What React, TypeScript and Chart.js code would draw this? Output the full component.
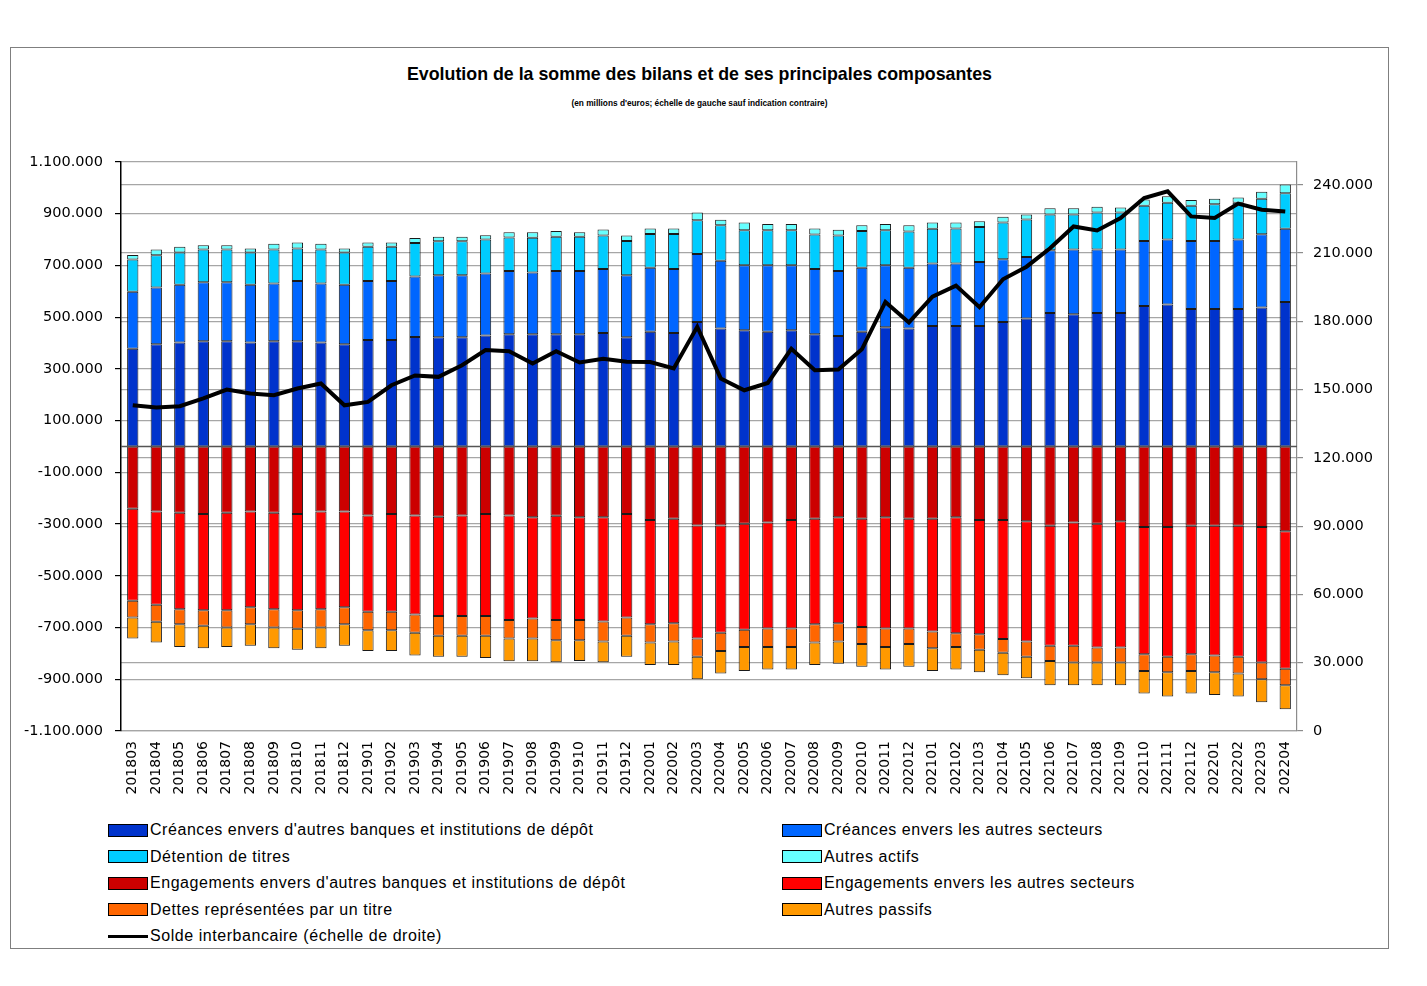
import React, { useEffect, useRef } from "react";
import { Chart, registerables } from "chart.js";

Chart.register(...registerables);

const months = [
  "201803","201804","201805","201806","201807","201808","201809","201810","201811","201812",
  "201901","201902","201903","201904","201905","201906","201907","201908","201909","201910",
  "201911","201912","202001","202002","202003","202004","202005","202006","202007","202008",
  "202009","202010","202011","202012","202101","202102","202103","202104","202105","202106",
  "202107","202108","202109","202110","202111","202112","202201","202202","202203","202204",
];

const creancesBanques = [378000,395000,402000,407000,407000,402000,407000,407000,402000,395000,412000,412000,423000,422000,422000,429000,434000,434000,434000,434000,439000,422000,444000,439000,481000,456000,449000,444000,449000,434000,427000,444000,461000,456000,466000,466000,466000,481000,495000,516000,511000,516000,516000,543000,549000,532000,532000,532000,537000,559000];
const creancesSecteurs = [220000,220000,223000,228000,228000,223000,223000,233000,228000,230000,228000,228000,234000,240000,240000,240000,245000,239000,245000,245000,247000,240000,247000,247000,263000,262000,252000,257000,252000,252000,252000,247000,240000,235000,242000,242000,247000,243000,238000,243000,251000,246000,246000,252000,251000,263000,263000,268000,284000,283000];
const detentionTitres = [125000,124000,125000,127000,127000,125000,132000,126000,132000,125000,132000,132000,130000,132000,132000,131000,129000,134000,132000,132000,130000,133000,131000,136000,131000,137000,135000,135000,135000,134000,137000,142000,135000,140000,134000,135000,136000,142000,145000,138000,135000,143000,143000,136000,142000,136000,142000,142000,137000,137000];
const autresActifs = [17000,23000,22000,16000,16000,16000,22000,23000,22000,16000,17000,17000,19000,17000,17000,17000,20000,21000,22000,17000,23000,21000,21000,21000,30000,22000,30000,24000,24000,23000,22000,22000,24000,24000,24000,23000,22000,22000,19000,24000,24000,22000,19000,24000,26000,22000,21000,21000,27000,34000];
const engagementsBanques = [-241000,-251000,-256000,-261000,-256000,-251000,-256000,-261000,-251000,-251000,-267000,-261000,-267000,-272000,-267000,-261000,-267000,-274000,-268000,-274000,-274000,-261000,-284000,-279000,-305000,-305000,-299000,-294000,-284000,-279000,-274000,-279000,-274000,-279000,-279000,-274000,-284000,-284000,-289000,-306000,-294000,-299000,-289000,-311000,-311000,-306000,-306000,-306000,-311000,-328000];
const engagementsSecteurs = [-355000,-361000,-373000,-372000,-377000,-371000,-373000,-372000,-378000,-371000,-372000,-378000,-383000,-383000,-388000,-394000,-404000,-391000,-403000,-397000,-403000,-400000,-403000,-404000,-437000,-415000,-410000,-410000,-420000,-408000,-409000,-419000,-430000,-425000,-436000,-448000,-442000,-460000,-465000,-464000,-476000,-478000,-488000,-492000,-502000,-497000,-502000,-507000,-524000,-531000];
const dettesTitre = [-65000,-66000,-58000,-60000,-67000,-65000,-71000,-72000,-71000,-65000,-71000,-71000,-70000,-77000,-77000,-77000,-71000,-77000,-78000,-78000,-77000,-71000,-71000,-71000,-71000,-71000,-66000,-71000,-71000,-71000,-71000,-66000,-71000,-60000,-65000,-53000,-60000,-53000,-59000,-59000,-65000,-58000,-58000,-65000,-60000,-65000,-65000,-65000,-65000,-64000];
const autresPassifs = [-81000,-80000,-88000,-87000,-75000,-83000,-80000,-81000,-80000,-83000,-81000,-81000,-88000,-81000,-81000,-86000,-88000,-88000,-85000,-80000,-80000,-81000,-87000,-91000,-87000,-87000,-93000,-87000,-87000,-87000,-86000,-88000,-87000,-88000,-88000,-87000,-87000,-87000,-83000,-94000,-88000,-88000,-88000,-87000,-94000,-87000,-88000,-89000,-89000,-93000];
const soldeInterbancaire = [143100,142100,142700,146100,150000,148300,147500,150500,152700,143100,144600,151900,156200,155600,160700,167400,166900,161500,166900,161900,163500,162200,162100,159300,177600,154900,149700,152900,167900,158500,158800,167700,188500,179500,190800,195700,186200,198500,204000,212100,221700,219900,225400,234200,237100,226100,225400,231700,229000,228300];

const leftTicks = [-1100000,-900000,-700000,-500000,-300000,-100000,100000,300000,500000,700000,900000,1100000];
const rightTicks = [0,30000,60000,90000,120000,150000,180000,210000,240000];

const seriesNames = [
  "Créances envers d'autres banques et institutions de dépôt",
  "Créances envers les autres secteurs",
  "Détention de titres",
  "Autres actifs",
  "Engagements envers d'autres banques et institutions de dépôt",
  "Engagements envers les autres secteurs",
  "Dettes représentées par un titre",
  "Autres passifs",
  "Solde interbancaire (échelle de droite)",
];
const seriesColors = ["#0033CC", "#0066FF", "#00CCFF", "#66FFFF", "#CC0000", "#FF0000", "#FF6600", "#FF9900", "#000000"];

const leftMin = -1100000;
const leftMax = 1100000;
const rightMin = 0;
const rightMax = 250000;

const fmt = (v: number) => {
  const s = String(Math.abs(Math.round(v))).replace(/\B(?=(\d{3})+(?!\d))/g, ".");
  return (v < 0 ? "-" : "") + s;
};

const FONT = "'DejaVu Sans', sans-serif";
const LEGEND_FONT = "'Liberation Sans', Arial, sans-serif";

export default function App() {
  const ref = useRef<HTMLCanvasElement | null>(null);

  useEffect(() => {
    if (!ref.current) return;
    const barSeries = [
      creancesBanques, creancesSecteurs, detentionTitres, autresActifs,
      engagementsBanques, engagementsSecteurs, dettesTitre, autresPassifs,
    ];
    const barCommon = {
      type: "bar" as const,
      stack: "s",
      yAxisID: "y",
      borderColor: "#1a1a1a",
      borderWidth: 1,
      borderSkipped: false as const,
      barPercentage: 0.48,
      categoryPercentage: 1,
      order: 1,
    };
    const chart = new Chart(ref.current, {
      type: "bar",
      data: {
        labels: months,
        datasets: [
          {
            type: "line",
            label: seriesNames[8],
            data: soldeInterbancaire,
            yAxisID: "y1",
            borderColor: "#000",
            backgroundColor: "#000",
            borderWidth: 4,
            pointRadius: 0,
            tension: 0,
            order: 0,
          } as any,
          ...barSeries.map((d, i) => ({
            ...barCommon,
            label: seriesNames[i],
            data: d,
            backgroundColor: seriesColors[i],
          })),
        ],
      },
      options: {
        responsive: false,
        animation: false,
        devicePixelRatio: 1,
        layout: { padding: { top: 114, bottom: 0, left: 0, right: 0 } },
        plugins: {
          legend: { display: false },
          title: { display: false },
          tooltip: { enabled: false },
        },
        scales: {
          x: {
            stacked: true,
            grid: { display: false, drawTicks: false },
            border: { display: false },
            ticks: {
              minRotation: 90,
              maxRotation: 90,
              autoSkip: false,
              padding: 10,
              color: "#000",
              font: { family: FONT, size: 14 },
            },
            afterFit: (s: any) => { s.height = 87; },
          },
          y: {
            stacked: true,
            position: "left",
            min: leftMin,
            max: leftMax,
            afterBuildTicks: (s: any) => { s.ticks = leftTicks.map((v) => ({ value: v })); },
            ticks: {
              callback: (v: any) => fmt(Number(v)),
              padding: 12,
              color: "#000",
              font: { family: FONT, size: 14.5 },
            },
            grid: {
              color: "#a6a6a6",
              lineWidth: 1.2,
              tickLength: 6,
              tickColor: "#000",
            },
            border: { display: true, color: "#000", width: 1.5 },
            afterFit: (s: any) => { s.width = 110; },
          },
          y1: {
            position: "right",
            min: rightMin,
            max: rightMax,
            afterBuildTicks: (s: any) => { s.ticks = rightTicks.map((v) => ({ value: v })); },
            ticks: {
              callback: (v: any) => fmt(Number(v)),
              padding: 10,
              color: "#000",
              font: { family: FONT, size: 14.5 },
            },
            grid: {
              color: "#a6a6a6",
              lineWidth: 1.2,
              tickLength: 6,
              tickColor: "#8c8c8c",
            },
            border: { display: true, color: "#8c8c8c", width: 1.2 },
            afterFit: (s: any) => { s.width = 90; },
          },
        },
      },
      plugins: [
        {
          id: "zeroLine",
          afterDatasetsDraw(c: any) {
            const y = c.scales.y.getPixelForValue(0);
            const { left, right } = c.chartArea;
            const ctx = c.ctx;
            ctx.save();
            ctx.strokeStyle = "#555555";
            ctx.lineWidth = 1.5;
            ctx.beginPath();
            ctx.moveTo(left, y);
            ctx.lineTo(right, y);
            ctx.stroke();
            ctx.restore();
          },
        },
      ],
    });
    return () => chart.destroy();
  }, []);

  const legendRows: [number, number | null][] = [
    [0, 1],
    [2, 3],
    [4, 5],
    [6, 7],
    [8, null],
  ];

  const renderItem = (i: number, left: number, top: number) => (
    <div
      key={i}
      style={{
        position: "absolute",
        left,
        top: top - 10,
        height: 20,
        display: "flex",
        alignItems: "center",
        whiteSpace: "nowrap",
        fontFamily: LEGEND_FONT,
        fontSize: 16,
        letterSpacing: 0.55,
        color: "#000",
      }}
    >
      {i === 8 ? (
        <span style={{ display: "inline-block", width: 40, height: 3, background: "#000", marginRight: 2 }} />
      ) : (
        <span
          style={{
            display: "inline-block",
            width: 38,
            height: 11,
            background: seriesColors[i],
            border: "1px solid #000",
            marginRight: 2,
          }}
        />
      )}
      <span>{seriesNames[i]}</span>
    </div>
  );

  return (
    <div
      style={{
        position: "absolute",
        left: 10,
        top: 47,
        width: 1379,
        height: 902,
        boxSizing: "border-box",
        border: "1px solid #7f7f7f",
        background: "#fff",
      }}
    >
      <div
        style={{
          position: "absolute",
          left: 0,
          width: 1377,
          top: 16,
          textAlign: "center",
          fontFamily: LEGEND_FONT,
          fontWeight: "bold",
          fontSize: 17.8,
          color: "#000",
        }}
      >
        Evolution de la somme des bilans et de ses principales composantes
      </div>
      <div
        style={{
          position: "absolute",
          left: 0,
          width: 1377,
          top: 50,
          textAlign: "center",
          fontFamily: LEGEND_FONT,
          fontWeight: "bold",
          fontSize: 8.3,
          color: "#000",
        }}
      >
        (en millions d'euros; échelle de gauche sauf indication contraire)
      </div>
      <canvas ref={ref} width={1376} height={770} style={{ position: "absolute", left: 0, top: 0 }} />
      {legendRows.map(([a, b], r) => {
        const top = 782 + r * 26.5;
        return (
          <React.Fragment key={r}>
            {renderItem(a, 97, top)}
            {b !== null ? renderItem(b, 771, top) : null}
          </React.Fragment>
        );
      })}
    </div>
  );
}
